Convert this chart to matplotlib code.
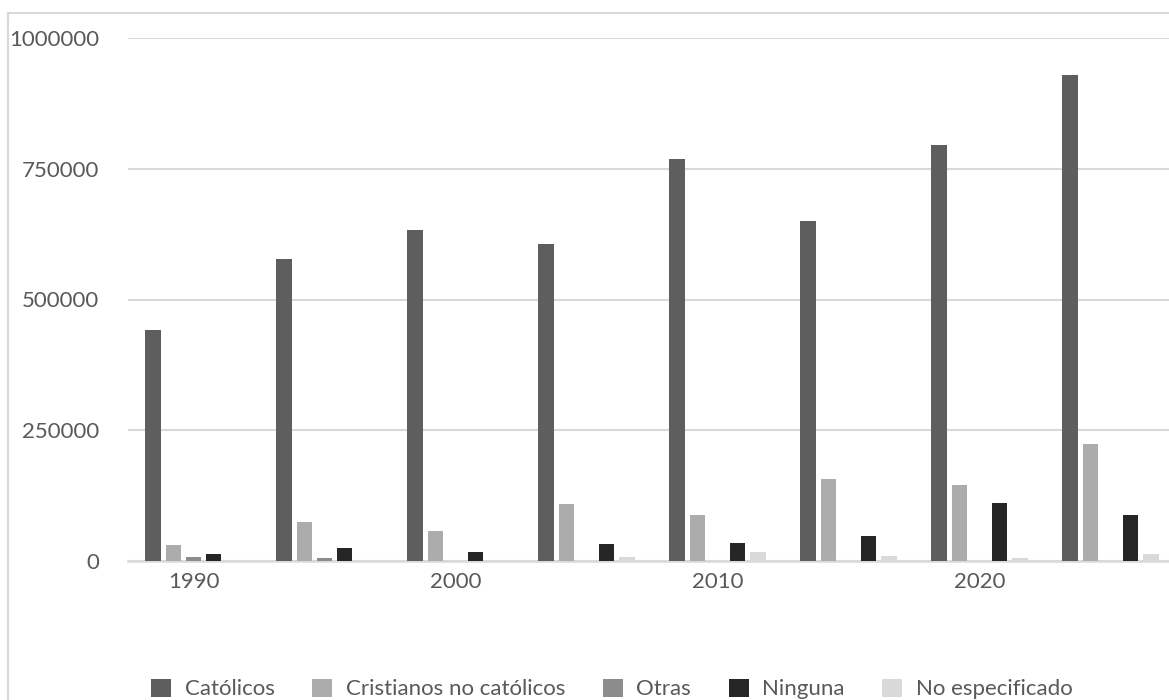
import matplotlib.pyplot as plt
import numpy as np

# Data
years = [1990, 1995, 2000, 2005, 2010, 2015, 2020, 2025]
catolicos = [442000, 578000, 633000, 606000, 769000, 650000, 795000, 930000]
cristianos = [31000, 75000, 57000, 108000, 87000, 157000, 145000, 224000]
otras = [6500, 6000, 0, 0, 0, 0, 0, 0]
ninguna = [12000, 24000, 16000, 32000, 34000, 47000, 111000, 87000]
no_especificado = [0, 2000, 0, 7500, 17000, 9500, 6000, 12000]

series = [catolicos, cristianos, otras, ninguna, no_especificado]
names = ["Católicos", "Cristianos no católicos", "Otras", "Ninguna", "No especificado"]
colors = ["#5e5e5e", "#acacac", "#8c8c8c", "#262626", "#d9d9d9"]

plt.rcParams['font.family'] = ['Lato', 'DejaVu Sans']

fig = plt.figure(figsize=(11.69, 7), dpi=100)
ax = fig.add_axes([128 / 1169, 139.3 / 700, 1048 / 1169, 522.4 / 700])

x = np.arange(len(years))
slot = 0.154
for i, (vals, name, c) in enumerate(zip(series, names, colors)):
    ax.bar(x + (i - 2) * slot, vals, width=0.117, color=c, label=name, zorder=3)

ax.set_xlim(-0.5, len(years) - 0.5)
ax.set_ylim(0, 1000000)
ax.set_yticks([0, 250000, 500000, 750000, 1000000])
ax.set_yticklabels(["0", "250000", "500000", "750000", "1000000"])
ax.set_xticks(x[::2])
ax.set_xticklabels([str(y) for y in years[::2]])

ax.grid(axis='y', color='#d9d9d9', linewidth=1.5, zorder=0)
for s in ['top', 'right', 'left']:
    ax.spines[s].set_visible(False)
ax.spines['bottom'].set_color('#d9d9d9')
ax.spines['bottom'].set_linewidth(1.8)
ax.tick_params(axis='both', length=0, labelsize=16, labelcolor='#595959')
ax.tick_params(axis='y', pad=21)
ax.tick_params(axis='x', pad=8)

# outer chart border (cropped on the right and bottom)
fig.add_artist(plt.Rectangle((8 / 1169, -0.1), 1.2, 1.0 - 12.7 / 700 + 0.1,
                             transform=fig.transFigure, fill=False,
                             edgecolor='#d9d9d9', linewidth=1.5))

fig.legend(loc='center', bbox_to_anchor=(612 / 1169, 11 / 700), ncol=5,
           frameon=False, fontsize=16, handlelength=0.9, handleheight=0.9,
           handletextpad=0.6, columnspacing=1.7, labelcolor='#595959')

plt.savefig("out.png", dpi=100)
